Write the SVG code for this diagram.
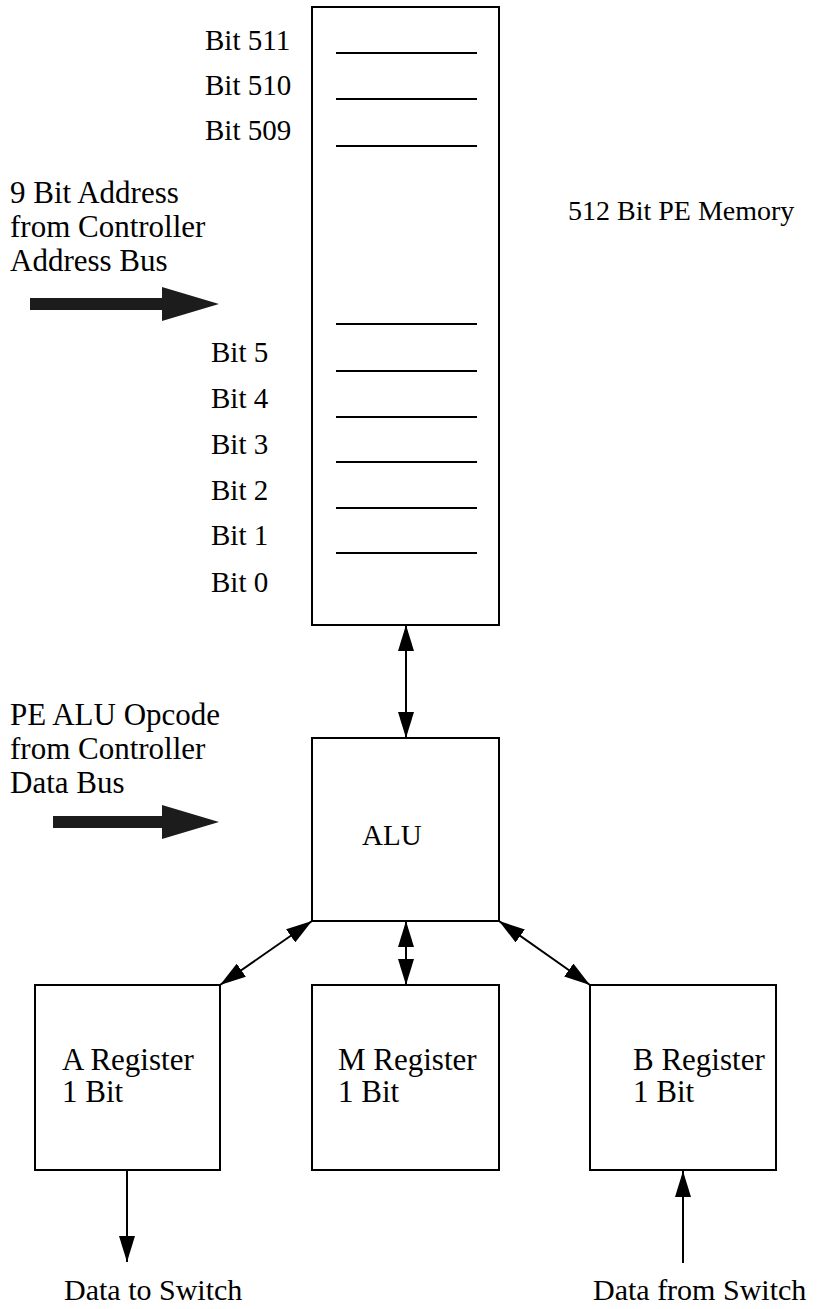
<svg xmlns="http://www.w3.org/2000/svg" width="818" height="1309" viewBox="0 0 818 1309">
<style>
text{font-family:"Liberation Serif","Times New Roman",serif;font-size:29px;fill:#000}
.lbl{font-size:31px}
.reg{font-size:31px}
.sw{font-size:30px}
.mem{font-size:28px}
.box{fill:#fff;stroke:#000;stroke-width:2}
.row{stroke:#000;stroke-width:2}
.con{stroke:#000;stroke-width:2;fill:none}
.big{fill:#1c1c1c}
</style>
<defs>
<marker id="ah" viewBox="0 0 26 16" refX="26" refY="8" markerWidth="26" markerHeight="16" markerUnits="userSpaceOnUse" orient="auto-start-reverse">
<path d="M0,0 L26,8 L0,16 Z" fill="#000"/>
</marker>
</defs>
<g id="memory">
<rect class="box" x="312" y="7" width="187" height="618"/>
<line class="row" x1="336" y1="53" x2="477" y2="53"/>
<line class="row" x1="336" y1="99" x2="477" y2="99"/>
<line class="row" x1="336" y1="146" x2="477" y2="146"/>
<line class="row" x1="336" y1="324" x2="477" y2="324"/>
<line class="row" x1="336" y1="371" x2="477" y2="371"/>
<line class="row" x1="336" y1="417" x2="477" y2="417"/>
<line class="row" x1="336" y1="462" x2="477" y2="462"/>
<line class="row" x1="336" y1="508" x2="477" y2="508"/>
<line class="row" x1="336" y1="553" x2="477" y2="553"/>
<text x="205" y="50">Bit 511</text>
<text x="205" y="95">Bit 510</text>
<text x="205" y="140">Bit 509</text>
<text x="211" y="362">Bit 5</text>
<text x="211" y="408">Bit 4</text>
<text x="211" y="454">Bit 3</text>
<text x="211" y="500">Bit 2</text>
<text x="211" y="545">Bit 1</text>
<text x="211" y="592">Bit 0</text>
<text class="mem" x="568" y="220">512 Bit PE Memory</text>
</g>
<g id="address-input">
<text class="lbl" x="10" y="203">9 Bit Address</text>
<text class="lbl" x="10" y="237">from Controller</text>
<text class="lbl" x="10" y="271">Address Bus</text>
<path class="big" d="M30,298 L162,298 L162,287 L219,304 L162,321 L162,310 L30,310 Z"/>
</g>
<g id="opcode-input">
<text class="lbl" x="10" y="725">PE ALU Opcode</text>
<text class="lbl" x="10" y="759">from Controller</text>
<text class="lbl" x="10" y="793">Data Bus</text>
<path class="big" d="M53,816 L162,816 L162,805 L219,822 L162,839 L162,828 L53,828 Z"/>
</g>
<g id="alu">
<rect class="box" x="312" y="738" width="187" height="183"/>
<text x="362" y="845">ALU</text>
</g>
<g id="a-register">
<rect class="box" x="35" y="985" width="185" height="185"/>
<text class="reg" x="62" y="1070">A Register</text>
<text class="reg" x="62" y="1102">1 Bit</text>
</g>
<g id="m-register">
<rect class="box" x="312" y="985" width="187" height="185"/>
<text class="reg" x="338" y="1070">M Register</text>
<text class="reg" x="338" y="1102">1 Bit</text>
</g>
<g id="b-register">
<rect class="box" x="590" y="985" width="186" height="185"/>
<text class="reg" x="633" y="1070">B Register</text>
<text class="reg" x="633" y="1102">1 Bit</text>
</g>
<g id="switch-labels">
<text class="sw" x="64" y="1300">Data to Switch</text>
<text class="sw" x="593" y="1300">Data from Switch</text>
</g>
<g id="connectors">
<line class="con" x1="406" y1="625" x2="406" y2="738" marker-start="url(#ah)" marker-end="url(#ah)"/>
<line class="con" x1="312" y1="921" x2="220" y2="985" marker-start="url(#ah)" marker-end="url(#ah)"/>
<line class="con" x1="406" y1="921" x2="406" y2="985" marker-start="url(#ah)" marker-end="url(#ah)"/>
<line class="con" x1="499" y1="921" x2="590" y2="985" marker-start="url(#ah)" marker-end="url(#ah)"/>
<line class="con" x1="127" y1="1170" x2="127" y2="1262" marker-end="url(#ah)"/>
<line class="con" x1="683" y1="1263" x2="683" y2="1171" marker-end="url(#ah)"/>
</g>
</svg>
